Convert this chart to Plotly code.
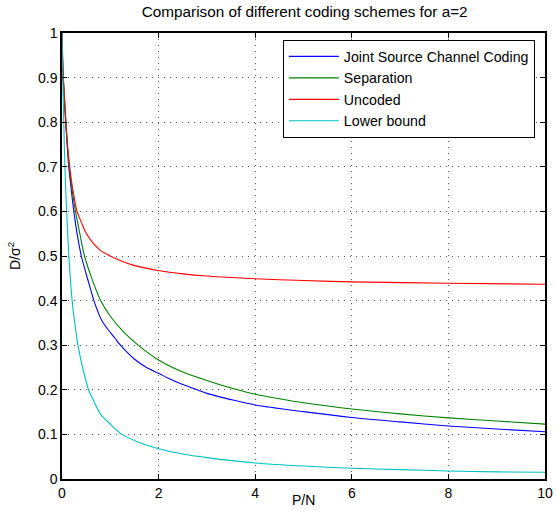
import plotly.graph_objects as go

# Data
jscc_x = [0, 0.02, 0.05, 0.1, 0.14, 0.19, 0.245, 0.32, 0.40, 0.5, 0.58, 0.66, 0.74, 0.82, 0.96, 1.1, 1.21, 1.35, 1.51, 1.75, 2.0, 2.2, 2.41, 2.7, 3.0, 3.5, 4.0, 5.0, 6.0, 7.0, 8.0, 9.0, 10.0]
jscc_y = [1.0, 0.91, 0.85, 0.76, 0.70, 0.65, 0.60, 0.545, 0.50, 0.46, 0.43, 0.40, 0.376, 0.356, 0.334, 0.315, 0.30, 0.284, 0.268, 0.25, 0.237, 0.226, 0.216, 0.204, 0.192, 0.178, 0.166, 0.151, 0.138, 0.128, 0.119, 0.112, 0.106]

sep_x = [0, 0.02, 0.05, 0.1, 0.15, 0.2, 0.28, 0.36, 0.465, 0.6, 0.8, 1.0, 1.3, 1.6, 2.0, 2.5, 3.0, 3.5, 4.0, 4.5, 5.0, 6.0, 7.0, 8.0, 9.0, 10.0]
sep_y = [1.0, 0.91, 0.86, 0.77, 0.70, 0.655, 0.60, 0.555, 0.50, 0.455, 0.40, 0.365, 0.327, 0.298, 0.267, 0.240, 0.221, 0.204, 0.190, 0.180, 0.171, 0.157, 0.146, 0.137, 0.130, 0.123]

unc_x = [0, 0.02, 0.05, 0.08, 0.12, 0.16, 0.2, 0.25, 0.31, 0.4, 0.49, 0.6, 0.7, 0.8, 1.0, 1.2, 1.49, 2.02, 2.5, 3.0, 4.0, 5.0, 6.0, 8.0, 10.0]
unc_y = [1.0, 0.925, 0.85, 0.795, 0.74, 0.70, 0.666, 0.633, 0.60, 0.576, 0.553, 0.535, 0.522, 0.512, 0.50, 0.49, 0.479, 0.467, 0.46, 0.455, 0.449, 0.445, 0.442, 0.439, 0.4366]

low_x = [0, 0.01, 0.03, 0.06, 0.09, 0.14, 0.21, 0.27, 0.33, 0.42, 0.55, 0.68, 0.8, 1.0, 1.24, 1.6, 2.0, 2.5, 3.0, 4.0, 5.0, 6.0, 7.0, 8.0, 9.0, 10.0]
low_y = [1.0, 0.93, 0.83, 0.70, 0.615, 0.505, 0.40, 0.345, 0.30, 0.253, 0.20, 0.17, 0.145, 0.123, 0.10, 0.082, 0.068, 0.056, 0.048, 0.036, 0.029, 0.024, 0.021, 0.018, 0.016, 0.015]

series = [
    ("Joint Source Channel Coding", jscc_x, jscc_y, "#0000ff"),
    ("Separation", sep_x, sep_y, "#008000"),
    ("Uncoded", unc_x, unc_y, "#ff0000"),
    ("Lower bound", low_x, low_y, "#00bfbf"),
]

x_ticks = [0, 2, 4, 6, 8, 10]
y_ticks = [0, 0.1, 0.2, 0.3, 0.4, 0.5, 0.6, 0.7, 0.8, 0.9, 1]

fig = go.Figure()
for name, xs, ys, col in series:
    fig.add_trace(go.Scatter(x=xs, y=ys, mode="lines", name=name,
                             line=dict(color=col, width=1.1, shape="spline", smoothing=0.8)))

font_family = "Liberation Sans, Arial, sans-serif"
axis_common = dict(
    showline=True, linecolor="black", linewidth=1.5, mirror="ticks",
    ticks="inside", ticklen=5, tickcolor="black",
    showgrid=True, gridcolor="#555555", griddash="1px,5px", gridwidth=1,
    zeroline=False, automargin=False,
    tickfont=dict(size=14, color="black", family=font_family),
)

fig.update_layout(
    width=556, height=524,
    margin=dict(l=62, r=11, t=33, b=45),
    paper_bgcolor="white", plot_bgcolor="white",
    font=dict(family=font_family, color="black"),
    title=dict(text="Comparison of different coding schemes for a=2", x=0.548, xanchor="center",
               y=0.977, yanchor="middle", font=dict(size=15.3, color="black")),
    xaxis=dict(range=[0, 10], tickvals=x_ticks, **axis_common),
    yaxis=dict(range=[0, 1], tickvals=y_ticks, **axis_common),
    legend=dict(x=0.979, y=0.985, xanchor="right", yanchor="top",
                bgcolor="white", bordercolor="black", borderwidth=1, itemwidth=50,
                font=dict(size=14.2, color="black"), tracegroupgap=0),
    showlegend=True,
    annotations=[
        dict(text="P/N", xref="paper", yref="paper", x=0.5, y=-0.047,
             xanchor="center", yanchor="middle", showarrow=False, font=dict(size=14, color="black")),
        dict(text="D/σ<sup>2</sup>", xref="paper", yref="paper", x=-0.0994, y=0.5,
             xanchor="center", yanchor="middle", textangle=-90, showarrow=False,
             font=dict(size=14, color="black")),
    ],
)

fig.write_html("out.html")
